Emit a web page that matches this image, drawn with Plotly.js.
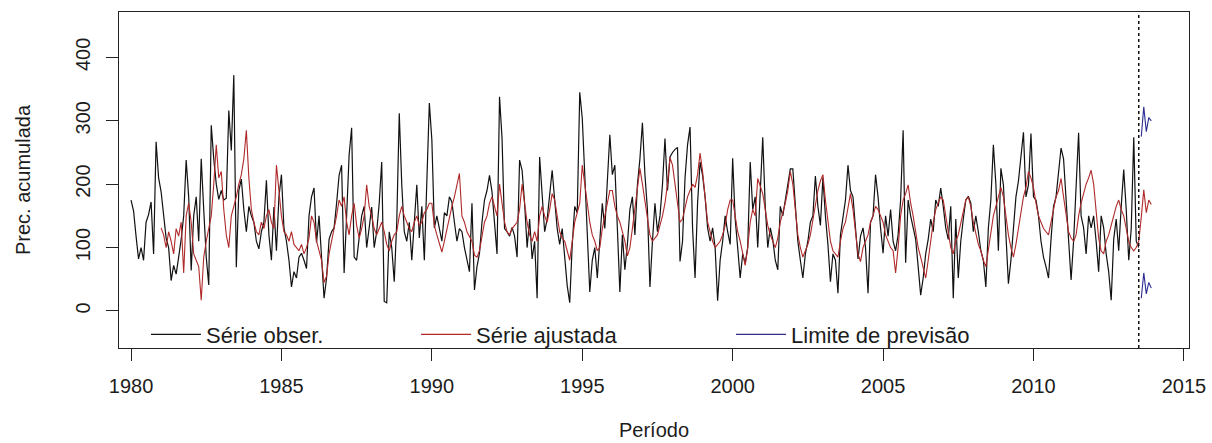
<!DOCTYPE html>
<html>
<head>
<meta charset="utf-8">
<script src="https://cdn.plot.ly/plotly-3.0.1.min.js"></script>
<style>
  html, body { margin: 0; padding: 0; background: #ffffff; }
  #chart { width: 1212px; height: 443px; }
</style>
</head>
<body>
<div id="chart"></div>
<script>
// Monthly accumulated precipitation: observed series, fitted series and forecast limits.

const obsStartYear = 1980;        // observed series starts January 1980
const fitStartYear = 1981;        // fitted series starts January 1981
const fcStartMonth = 7;           // forecast limits start August 2013 (month index 7)
const fcStartYear = 2013;

const observed = [
  175, 158, 118, 82, 100, 80, 140, 152, 172, 90, 267, 210,   // 1980
  188, 150, 115, 100, 48, 72, 58, 85, 113, 150, 238, 180,    // 1981
  64, 150, 180, 110, 240, 160, 85, 41, 293, 240, 200, 176,   // 1982
  190, 175, 178, 316, 253, 372, 69, 190, 208, 160, 125, 165, // 1983
  150, 140, 110, 98, 125, 140, 206, 120, 80, 164, 95, 180,   // 1984
  215, 131, 110, 80, 38, 62, 52, 85, 91, 80, 67, 150,        // 1985
  180, 194, 108, 150, 80, 20, 52, 113, 125, 131, 170, 214,   // 1986
  230, 60, 150, 246, 289, 85, 80, 120, 150, 165, 100, 131,   // 1987
  164, 100, 125, 170, 235, 15, 13, 125, 100, 46, 140, 312,   // 1988
  199, 125, 110, 140, 80, 140, 199, 115, 165, 80, 200, 328,  // 1989
  270, 131, 150, 132, 110, 155, 150, 180, 172, 140, 110, 130,// 1990
  125, 100, 80, 62, 170, 33, 70, 91, 140, 175, 190, 214,     // 1991
  188, 140, 90, 338, 272, 130, 125, 118, 132, 118, 85, 238,  // 1992
  222, 170, 100, 145, 82, 110, 20, 243, 180, 125, 145, 180,  // 1993
  222, 175, 130, 105, 130, 85, 40, 13, 105, 165, 155, 345,   // 1994
  304, 215, 131, 30, 80, 100, 52, 105, 170, 130, 200, 278,   // 1995
  215, 230, 131, 30, 120, 65, 105, 160, 180, 120, 199, 240,  // 1996
  297, 215, 160, 38, 110, 170, 125, 150, 199, 272, 190, 243, // 1997
  250, 255, 258, 78, 110, 210, 262, 290, 131, 52, 170, 235,  // 1998
  214, 180, 131, 110, 131, 100, 16, 80, 110, 150, 125, 105,  // 1999
  241, 145, 100, 52, 90, 75, 100, 235, 160, 180, 100, 190,   // 2000
  274, 165, 100, 131, 113, 80, 65, 165, 150, 175, 199, 224,  // 2001
  224, 165, 110, 80, 52, 90, 110, 140, 150, 213, 165, 135,   // 2002
  210, 150, 105, 46, 90, 80, 28, 120, 145, 175, 230, 190,    // 2003
  180, 131, 82, 118, 131, 100, 28, 140, 150, 215, 180, 131,  // 2004
  91, 150, 118, 160, 110, 95, 120, 175, 285, 76, 175, 150,   // 2005
  131, 113, 70, 25, 52, 90, 113, 145, 125, 175, 165, 194,    // 2006
  165, 131, 113, 165, 20, 145, 52, 110, 145, 175, 181, 170,  // 2007
  125, 150, 125, 95, 80, 38, 131, 175, 262, 200, 95, 225,    // 2008
  199, 131, 43, 80, 131, 180, 205, 240, 282, 180, 199, 280,  // 2009
  180, 175, 150, 110, 85, 70, 52, 113, 165, 180, 220, 257,   // 2010
  240, 175, 113, 49, 110, 210, 281, 150, 131, 90, 150, 131,  // 2011
  150, 110, 62, 150, 131, 90, 62, 17, 113, 145, 95, 165,     // 2012
  223, 160, 80, 130, 274, 110, 100                           // 2013 (Jan-Jul)
];

const fitted = [
  131, 120, 100, 125, 110, 90, 130, 118, 140, 60, 150, 170,  // 1981
  140, 90, 80, 70, 17, 85, 110, 130, 150, 200, 262, 210,     // 1982
  220, 160, 120, 100, 150, 165, 180, 200, 215, 240, 285, 210,// 1983
  160, 140, 125, 120, 140, 130, 150, 160, 140, 130, 230, 190,// 1984
  150, 125, 120, 110, 125, 105, 100, 95, 105, 90, 100, 115,  // 1985
  150, 140, 110, 95, 80, 45, 55, 90, 110, 125, 150, 175,     // 1986
  165, 180, 140, 120, 150, 170, 135, 115, 130, 150, 199, 165,// 1987
  150, 130, 120, 130, 140, 125, 105, 95, 110, 120, 125, 150, // 1988
  165, 150, 140, 130, 125, 140, 150, 135, 140, 155, 160, 170,// 1989
  170, 135, 120, 105, 93, 110, 130, 150, 165, 180, 200, 217, // 1990
  150, 140, 125, 118, 110, 88, 85, 95, 120, 140, 150, 170,   // 1991
  180, 165, 150, 200, 170, 140, 125, 120, 130, 135, 140, 160,// 1992
  200, 170, 140, 120, 110, 125, 110, 150, 165, 150, 140, 160,// 1993
  185, 175, 150, 125, 115, 110, 95, 80, 110, 140, 155, 170,  // 1994
  230, 200, 170, 140, 120, 110, 95, 100, 130, 150, 165, 190, // 1995
  190, 165, 150, 140, 125, 110, 87, 100, 130, 160, 190, 225, // 1996
  200, 175, 150, 120, 110, 115, 120, 135, 150, 170, 200, 242,// 1997
  230, 200, 170, 140, 145, 165, 180, 190, 200, 195, 215, 249,// 1998
  220, 180, 140, 125, 110, 100, 105, 110, 120, 135, 160, 175,// 1999
  175, 150, 125, 110, 90, 72, 100, 140, 160, 150, 209, 195,  // 2000
  185, 160, 135, 120, 110, 100, 115, 140, 155, 170, 190, 220,// 2001
  200, 160, 120, 100, 85, 95, 105, 120, 145, 170, 190, 205,  // 2002
  215, 175, 140, 110, 95, 90, 85, 110, 130, 140, 165, 185,   // 2003
  160, 120, 90, 78, 100, 110, 120, 140, 150, 165, 160, 150,  // 2004
  140, 120, 110, 100, 95, 60, 100, 150, 175, 185, 199, 170,  // 2005
  150, 125, 100, 85, 70, 52, 80, 110, 140, 160, 170, 180,    // 2006
  175, 150, 125, 100, 90, 110, 120, 140, 160, 175, 180, 165, // 2007
  140, 120, 105, 95, 80, 70, 95, 125, 150, 165, 180, 195,    // 2008
  180, 150, 120, 100, 85, 105, 130, 160, 180, 195, 220, 210, // 2009
  195, 170, 150, 140, 130, 125, 120, 140, 160, 180, 190, 209,// 2010
  180, 150, 125, 115, 110, 120, 150, 170, 185, 200, 210, 222,// 2011
  200, 160, 115, 95, 90, 110, 120, 135, 150, 165, 175, 160,  // 2012
  150, 130, 110, 100, 95, 100, 110, 148, 191, 155, 175, 168  // 2013
];

const upperLimit = [275, 322, 283, 305, 300];   // Aug-Dec 2013
const lowerLimit = [20, 60, 27, 45, 36];        // Aug-Dec 2013

const xTicks = [1980, 1985, 1990, 1995, 2000, 2005, 2010, 2015];
const yTicks = [0, 100, 200, 300, 400];

const legendLabels = ["Série obser.", "Série ajustada", "Limite de previsão"];
const seriesColors = ["#111111", "#b02a2a", "#2c2c94"];

// time axis in decimal years for a monthly series
function monthlyTime(startYear, startMonth, n) {
  return Array.from({ length: n }, (_, i) => startYear + (startMonth + i) / 12);
}

const tObs = monthlyTime(obsStartYear, 0, observed.length);
const tFit = monthlyTime(fitStartYear, 0, fitted.length);
const tFc = monthlyTime(fcStartYear, fcStartMonth, upperLimit.length);
const lastObs = tObs[tObs.length - 1];

const FONT = "Liberation Sans, Arial, sans-serif";
const TEXT = "#1c1c1c";

const traces = [
  { x: tObs, y: observed, type: "scatter", mode: "lines", name: legendLabels[0],
    line: { color: seriesColors[0], width: 1.2 }, legend: "legend" },
  { x: tFit, y: fitted, type: "scatter", mode: "lines", name: legendLabels[1],
    line: { color: seriesColors[1], width: 1.1 }, legend: "legend2" },
  { x: tFc, y: upperLimit, type: "scatter", mode: "lines", name: legendLabels[2],
    line: { color: seriesColors[2], width: 1.1 }, legend: "legend3" },
  { x: tFc, y: lowerLimit, type: "scatter", mode: "lines", name: legendLabels[2],
    line: { color: seriesColors[2], width: 1.1 }, showlegend: false }
];

const legendCommon = {
  orientation: "h", yanchor: "middle", xanchor: "left", y: 0.04,
  bgcolor: "rgba(0,0,0,0)", borderwidth: 0, itemwidth: 50,
  font: { family: FONT, size: 22, color: TEXT }
};

const axisCommon = {
  showgrid: false, zeroline: false, showline: true, mirror: true,
  linecolor: "#222222", linewidth: 1,
  ticks: "outside", ticklen: 12, tickwidth: 1, tickcolor: "#222222",
  tickfont: { family: FONT, size: 20, color: TEXT },
  fixedrange: true
};

const layout = {
  width: 1212, height: 443,
  margin: { l: 119, r: 23, t: 12, b: 95 },
  paper_bgcolor: "#ffffff", plot_bgcolor: "#ffffff",
  showlegend: true,
  xaxis: Object.assign({}, axisCommon, {
    range: [1979.6, 2015.17], tickmode: "array", tickvals: xTicks,
    ticktext: xTicks.map(String), ticklabelstandoff: 8,
    title: { text: "Período", standoff: 26, font: { family: FONT, size: 20, color: TEXT } }
  }),
  yaxis: Object.assign({}, axisCommon, {
    range: [-58.4, 471.6], tickmode: "array", tickvals: yTicks,
    ticktext: yTicks.map(String), tickangle: -90, ticklabelstandoff: 8,
    title: { text: "Prec. acumulada", standoff: 36, font: { family: FONT, size: 20, color: TEXT } }
  }),
  legend: Object.assign({}, legendCommon, { x: 0.0252 }),
  legend2: Object.assign({}, legendCommon, { x: 0.2776 }),
  legend3: Object.assign({}, legendCommon, { x: 0.572 }),
  shapes: [{
    type: "line", xref: "x", yref: "paper", x0: lastObs, x1: lastObs, y0: 0, y1: 1,
    line: { color: "#111111", width: 1.5, dash: "dot" }
  }]
};

Plotly.newPlot("chart", traces, layout, { displayModeBar: false, staticPlot: true });
</script>
</body>
</html>
